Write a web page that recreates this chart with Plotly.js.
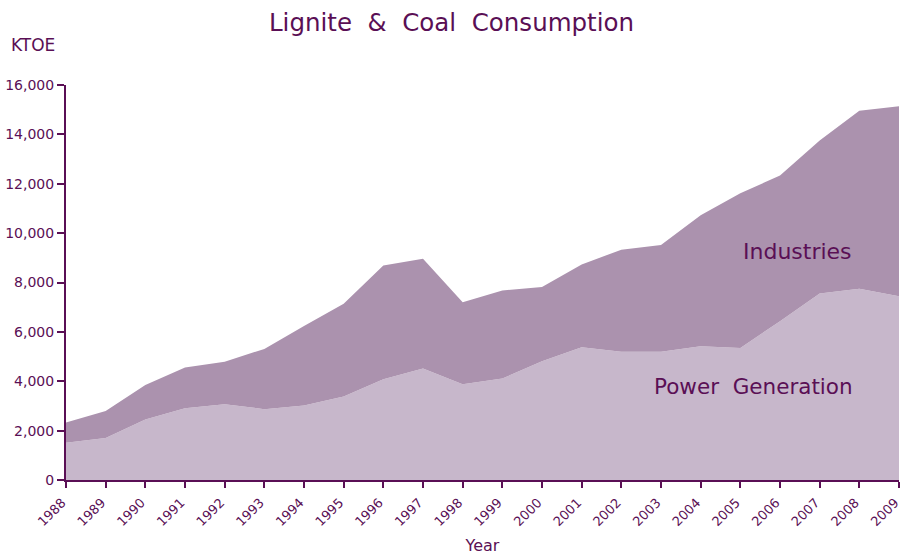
<!DOCTYPE html>
<html>
<head>
<meta charset="utf-8">
<script src="https://cdn.plot.ly/plotly-3.0.1.min.js"></script>
<style>html,body{margin:0;padding:0;background:#fff;}#chart{width:903px;height:555px;}</style>
</head>
<body>
<div id="chart"></div>
<script>
const years = [1988,1989,1990,1991,1992,1993,1994,1995,1996,1997,1998,1999,2000,2001,2002,2003,2004,2005,2006,2007,2008,2009];
const powerGeneration = [1510,1700,2450,2910,3070,2870,3020,3380,4080,4515,3880,4110,4810,5380,5200,5200,5420,5350,6430,7550,7750,7440];
const totalConsumption = [2330,2800,3850,4560,4790,5310,6240,7140,8690,8960,7200,7680,7820,8730,9330,9520,10720,11620,12330,13750,14960,15140];
const industries = totalConsumption.map((t,i)=>t-powerGeneration[i]);
const yTickVals = [0,2000,4000,6000,8000,10000,12000,14000,16000];

const textColor = '#5a0f55';
const font = 'DejaVu Sans, Verdana, sans-serif';

const traces = [
  {x: years, y: powerGeneration, name: 'Power Generation', type: 'scatter', mode: 'lines', stackgroup: 'one',
   line: {width: 0, color: '#c7b7cb'}, fillcolor: '#c7b7cb'},
  {x: years, y: industries, name: 'Industries', type: 'scatter', mode: 'lines', stackgroup: 'one',
   line: {width: 0, color: '#ab92ae'}, fillcolor: '#ab92ae'}
];

const layout = {
  width: 903, height: 555,
  margin: {l: 66, r: 4, t: 85, b: 75},
  paper_bgcolor: '#fff', plot_bgcolor: '#fff',
  showlegend: false,
  font: {family: font, color: textColor},
  title: {text: 'Lignite  &  Coal  Consumption', x: 0.5, xanchor: 'center', y: 0.96, yanchor: 'middle',
          font: {size: 24.5, color: textColor, family: font}},
  xaxis: {
    range: [1988, 2009], tickmode: 'array', tickvals: years, ticktext: years.map(String),
    tickangle: -45, tickfont: {size: 13, color: textColor}, ticklabeloverflow: 'allow',
    ticklabelshift: -4, ticklabelstandoff: 2,
    showline: true, linecolor: textColor, linewidth: 2,
    ticks: 'outside', ticklen: 6, tickwidth: 2, tickcolor: textColor,
    showgrid: false, zeroline: false,
    title: {text: 'Year', font: {size: 16, color: textColor}, standoff: 12}
  },
  yaxis: {
    range: [0, 16000], tickmode: 'array', tickvals: yTickVals, ticktext: yTickVals.map(v=>v.toLocaleString('en-US')),
    tickfont: {size: 14, color: textColor},
    showline: true, linecolor: textColor, linewidth: 2,
    ticks: 'outside', ticklen: 7, tickwidth: 2, tickcolor: textColor,
    showgrid: false, zeroline: false
  },
  annotations: [
    {text: 'KTOE', xref: 'paper', yref: 'paper', x: -0.068, y: 1.1, xanchor: 'left', yanchor: 'middle', showarrow: false,
     font: {size: 17, color: textColor}},
    {text: 'Industries', xref: 'x', yref: 'y', x: 2006.43, y: 9250, xanchor: 'center', yanchor: 'middle', showarrow: false,
     font: {size: 22, color: textColor}},
    {text: 'Power  Generation', xref: 'x', yref: 'y', x: 2005.32, y: 3780, xanchor: 'center', yanchor: 'middle', showarrow: false,
     font: {size: 21.5, color: textColor}}
  ]
};

Plotly.newPlot('chart', traces, layout, {displayModeBar: false, staticPlot: true});
</script>
</body>
</html>
